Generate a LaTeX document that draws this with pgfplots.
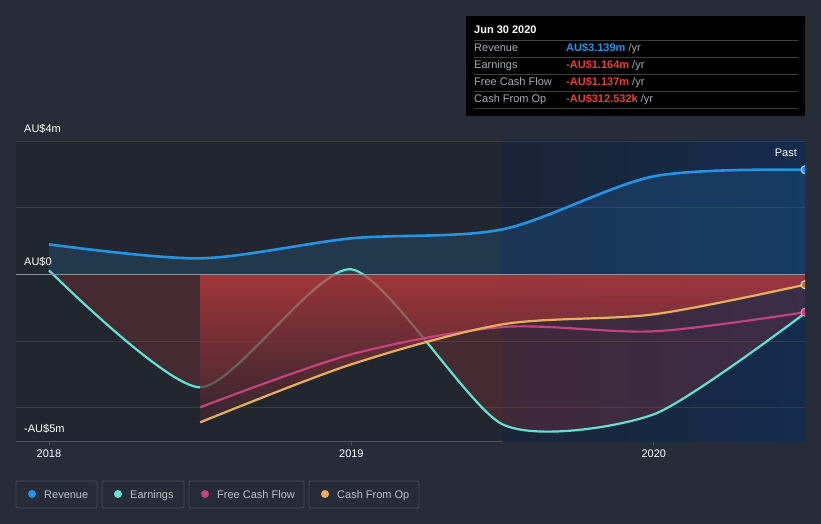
\documentclass[border=0pt]{standalone}
\usepackage{pgfplots}
\pgfplotsset{compat=1.18}
\usepackage{fontspec}
\setmainfont{Liberation Sans}

\definecolor{bg}{HTML}{262C38}
\definecolor{plotbg}{HTML}{22272F}
\definecolor{rev}{HTML}{2394E6}
\definecolor{earn}{HTML}{64E1D0}
\definecolor{fcf}{HTML}{C4427F}
\definecolor{cfo}{HTML}{E8B05A}
\definecolor{neg}{HTML}{E8403A}
\definecolor{gridc}{HTML}{363C47}
\definecolor{axisc}{HTML}{4C525D}
\definecolor{zeroc}{HTML}{8E939B}
\definecolor{lblgray}{HTML}{A9ADB3}
\definecolor{legtxt}{HTML}{BCC0C6}
\definecolor{legbox}{HTML}{474D59}
\definecolor{blueL}{HTML}{1A2538}
\definecolor{blueR}{HTML}{142B4C}
\definecolor{redtop}{HTML}{C33A3C}
\definecolor{redbot}{HTML}{3A2630}

\newcommand{\fs}{\fontsize{11}{13}\selectfont}

\begin{document}
\begin{tikzpicture}
\useasboundingbox (-16pt,-83pt) rectangle (805pt,441pt);
\fill[bg] (-16pt,-83pt) rectangle (805pt,441pt);

\begin{axis}[
    at={(0pt,0pt)}, anchor=south west,
    scale only axis, width=789pt, height=300pt,
    xmin=2017.891, xmax=2020.5,
    ymin=-5, ymax=4,
    axis background/.style={fill=plotbg},
    axis x line*=bottom,
    axis y line=none,
    x axis line style={draw=axisc, line width=1pt, -},
    xtick={2018,2019,2020},
    xticklabels={2018,2019,2020},
    xtick style={draw=axisc, line width=0.8pt},
    major tick length=4pt,
    tick align=outside,
    xticklabel style={text=white, font=\fs, yshift=-1pt},
    ytick=\empty,
    clip marker paths=true,
]

% last-year highlight
\fill[left color=blueL, right color=blueR] (axis cs:2019.5,-5) rectangle (axis cs:2020.5,4);

% grid
\draw[gridc, line width=0.8pt] (axis cs:2017.891,4) -- (axis cs:2020.5,4);
\draw[gridc, line width=0.8pt] (axis cs:2017.891,2) -- (axis cs:2020.5,2);
\draw[gridc, line width=0.8pt] (axis cs:2017.891,-2) -- (axis cs:2020.5,-2);
\draw[gridc, line width=0.8pt] (axis cs:2017.891,-4) -- (axis cs:2020.5,-4);

% revenue area
\addplot[draw=none, fill=rev, fill opacity=0.16, smooth] coordinates {
    (2018,0.90) (2018.5,0.48) (2019,1.08) (2019.5,1.35) (2020,2.94) (2020.5,3.139)
} \closedcycle;

% earnings area
\addplot[draw=none, fill=redtop, fill opacity=0.22, smooth, tension=0.4] coordinates {
    (2018,0.12) (2018.5,-3.39) (2019,0.15) (2019.5,-4.5) (2020,-4.2) (2020.5,-1.164)
} \closedcycle;

% earnings line
\addplot[earn, line width=2.2pt, smooth, tension=0.4] coordinates {
    (2018,0.12) (2018.5,-3.39) (2019,0.15) (2019.5,-4.5) (2020,-4.2) (2020.5,-1.164)
};

% cash flow area
\addplot[draw=none, top color=redtop, bottom color=redbot, fill opacity=0.72, smooth] coordinates {
    (2018.5,-4.44) (2019,-2.70) (2019.5,-1.50) (2020,-1.20) (2020.5,-0.3125)
} \closedcycle;

% zero line
\draw[zeroc, line width=1pt] (axis cs:2017.891,0) -- (axis cs:2020.5,0);

% free cash flow
\addplot[fcf, line width=2.2pt, smooth] coordinates {
    (2018.5,-3.99) (2019,-2.40) (2019.5,-1.58) (2020,-1.71) (2020.5,-1.137)
};

% cash from op
\addplot[cfo, line width=2.2pt, smooth] coordinates {
    (2018.5,-4.44) (2019,-2.70) (2019.5,-1.50) (2020,-1.20) (2020.5,-0.3125)
};

% revenue line
\addplot[rev, line width=2.6pt, smooth] coordinates {
    (2018,0.90) (2018.5,0.48) (2019,1.08) (2019.5,1.35) (2020,2.94) (2020.5,3.139)
};

% end markers
\addplot[only marks, mark=*, mark size=4pt, mark options={fill=rev, draw=white!60!rev, line width=1pt}]
    coordinates {(2020.5,3.139)};
\addplot[only marks, mark=*, mark size=4pt, mark options={fill=cfo!70!black, draw=white!70!cfo, line width=1pt}]
    coordinates {(2020.5,-0.3125)};
\addplot[only marks, mark=*, mark size=4pt, mark options={fill=fcf, draw=white!60!violet, line width=1pt}]
    coordinates {(2020.5,-1.137)};
\end{axis}

% y labels
\node[anchor=base west, text=white, font=\fs, inner sep=0pt] at (8pt,308pt) {AU\$4m};
\node[anchor=base west, text=white, font=\fs, inner sep=0pt] at (8pt,175pt) {AU\$0};
\node[anchor=base west, text=white, font=\fs, inner sep=0pt] at (8pt,8pt) {-AU\$5m};
\node[anchor=base east, text=white, font=\fs, inner sep=0pt] at (781pt,284pt) {Past};

% tooltip
\fill[black] (450pt,325pt) rectangle (789pt,425pt);
\node[anchor=base west, text=white, font=\fs\bfseries, inner sep=0pt] at (458pt,407pt) {Jun 30 2020};
\foreach \yy in {401,384,367,350,333}
    \draw[white!25!black, line width=0.7pt] (458pt,\yy pt) -- (782pt,\yy pt);
\node[anchor=base west, text=lblgray, font=\fs, inner sep=0pt] at (458pt,389pt) {Revenue};
\node[anchor=base west, text=lblgray, font=\fs, inner sep=0pt] at (458pt,372pt) {Earnings};
\node[anchor=base west, text=lblgray, font=\fs, inner sep=0pt] at (458pt,355pt) {Free Cash Flow};
\node[anchor=base west, text=lblgray, font=\fs, inner sep=0pt] at (458pt,338pt) {Cash From Op};
\node[anchor=base west, font=\fs, inner sep=0pt] at (550pt,389pt) {\textcolor{rev}{\bfseries AU\$3.139m} \textcolor{lblgray}{/yr}};
\node[anchor=base west, font=\fs, inner sep=0pt] at (550pt,372pt) {\textcolor{neg}{\bfseries -AU\$1.164m} \textcolor{lblgray}{/yr}};
\node[anchor=base west, font=\fs, inner sep=0pt] at (550pt,355pt) {\textcolor{neg}{\bfseries -AU\$1.137m} \textcolor{lblgray}{/yr}};
\node[anchor=base west, font=\fs, inner sep=0pt] at (550pt,338pt) {\textcolor{neg}{\bfseries -AU\$312.532k} \textcolor{lblgray}{/yr}};

% legend
\draw[legbox, line width=0.8pt, rounded corners=2pt] (0pt,-40pt) rectangle (81pt,-67pt);
\fill[rev] (16pt,-53pt) circle (4pt);
\node[anchor=base west, text=legtxt, font=\fs, inner sep=0pt] at (28pt,-57pt) {Revenue};
\draw[legbox, line width=0.8pt, rounded corners=2pt] (86pt,-40pt) rectangle (168pt,-67pt);
\fill[earn] (102pt,-53pt) circle (4pt);
\node[anchor=base west, text=legtxt, font=\fs, inner sep=0pt] at (114pt,-57pt) {Earnings};
\draw[legbox, line width=0.8pt, rounded corners=2pt] (173pt,-40pt) rectangle (288pt,-67pt);
\fill[fcf] (189pt,-53pt) circle (4pt);
\node[anchor=base west, text=legtxt, font=\fs, inner sep=0pt] at (201pt,-57pt) {Free Cash Flow};
\draw[legbox, line width=0.8pt, rounded corners=2pt] (293pt,-40pt) rectangle (403pt,-67pt);
\fill[cfo] (309pt,-53pt) circle (4pt);
\node[anchor=base west, text=legtxt, font=\fs, inner sep=0pt] at (321pt,-57pt) {Cash From Op};
\end{tikzpicture}
\end{document}
